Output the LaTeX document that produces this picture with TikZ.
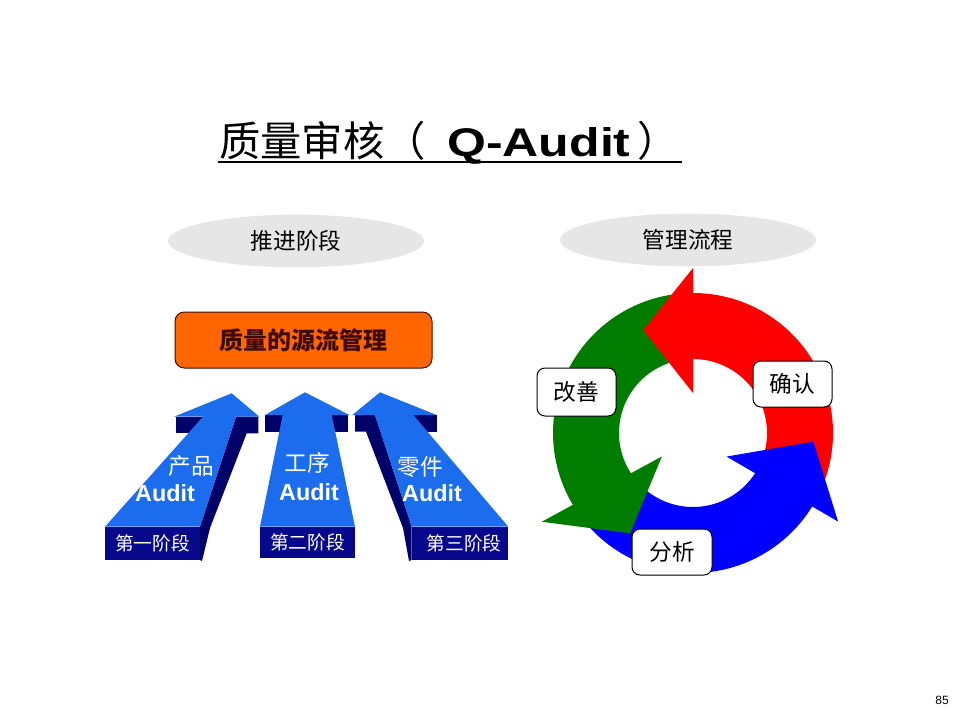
\documentclass[tikz,border=0pt]{standalone}
\usepackage{fontspec}
\usepackage{graphicx}
\setmainfont{Liberation Sans}
\newfontfamily\cjk{Noto Sans CJK SC}
\usetikzlibrary{shapes.geometric}
\definecolor{arrowblue}{RGB}{28,108,238}
\definecolor{arrowdark}{RGB}{0,0,105}
\definecolor{labelnavy}{RGB}{8,8,140}
\definecolor{pillgray}{RGB}{230,230,230}
\definecolor{boxorange}{RGB}{255,102,0}
\definecolor{boxtext}{RGB}{60,10,0}
\definecolor{ringred}{RGB}{255,0,0}
\definecolor{ringgreen}{RGB}{0,125,0}
\definecolor{ringblue}{RGB}{0,0,255}
\newcommand\cjkfs[1]{\cjk\fontsize{#1}{#1}\selectfont}
\begin{document}
\begin{tikzpicture}[x=0.75pt,y=-0.75pt,
  face/.style={fill=arrowblue},
  side/.style={fill=arrowdark},
  stagebox/.style={fill=labelnavy, text=white, inner sep=0pt, minimum width=71.25pt, minimum height=25pt, font=\cjkfs{14pt}},
  arrowcn/.style={text=white, inner sep=0pt, font=\cjkfs{17pt}},
  arrowen/.style={text=white, inner sep=0pt, font=\bfseries\fontsize{17.5pt}{17.5pt}\selectfont},
  pill/.style={ellipse, fill=pillgray, inner sep=0pt, minimum width=192pt, minimum height=39.5pt, font=\cjkfs{17pt}},
  tag/.style={draw=black, line width=0.75pt, fill=white, rounded corners=6pt, inner sep=0pt, minimum width=59.25pt, minimum height=35pt, font=\cjkfs{17pt}},
  srcbox/.style={draw=boxtext, line width=0.75pt, fill=boxorange, rounded corners=7pt, inner sep=0pt, minimum width=192.75pt, minimum height=42pt, text=boxtext, font=\cjkfs{18pt}\bfseries}
]
\useasboundingbox (0,0) rectangle (960,720);

% title
\node[anchor=base west, inner sep=0pt, font=\cjkfs{31pt}] (titlecn) at (219,157) {质量审核（};
\node[anchor=base west, inner sep=0pt, font=\bfseries\fontsize{30pt}{30pt}\selectfont] (titleq) at (447,157) {\scalebox{1.25}[1]{Q-Audit}};
\node[anchor=base west, inner sep=0pt, font=\cjkfs{31pt}] (titleclose) at (637,157) {）};
\coordinate (ulstart) at (218,162);
\coordinate (ulend) at (682,162);
\draw[line width=1.2pt] (ulstart) -- (ulend);

% headers
\node[pill] (stagehead) at (296,241) {推进阶段};
\node[pill] (flowhead) at (688,240) {管理流程};

% source box
\node[srcbox] (source) at (303.5,340) {质量的源流管理};

% arrow 1
\fill[side] (176,416.7) rectangle (203,433.3);
\fill[side] (200,560) -- (200,526.7) -- (236,416.7) -- (258.3,416.7) -- (258.3,433.3) -- (246.7,433.3) -- (210,528) -- (202,561) -- cycle;
\fill[face] (105,526.7) -- (200,526.7) -- (236,416.7) -- (259.3,416.7) -- (231.7,393.3) -- (174,416.7) -- (203,416.7) -- cycle;
\node[stagebox] (stage1) at (152.5,543.3) {第一阶段};
\node[arrowcn] (a1cn) at (191,466) {产品};
\node[arrowen] (a1en) at (165,493) {Audit};

% arrow 2
\fill[side] (265,415) rectangle (282.7,431.7);
\fill[side] (331.7,415) rectangle (348.3,431.7);
\fill[face] (260,526.7) -- (355,526.7) -- (331.7,415) -- (349.3,415) -- (305,392.3) -- (265,415) -- (282.7,415) -- cycle;
\node[stagebox, minimum height=23.7pt] (stage2) at (307.5,542.5) {第二阶段};
\node[arrowcn] (a2cn) at (307,463) {工序};
\node[arrowen] (a2en) at (309,492) {Audit};

% arrow 3
\fill[side] (413.3,415) rectangle (436.7,431.7);
\fill[side] (411.7,560) -- (411.7,526.7) -- (375,415) -- (355,415) -- (355,431.7) -- (366,431.7) -- (403,528) -- (409,561) -- cycle;
\fill[face] (411.7,526.7) -- (508.3,526.7) -- (413.3,415) -- (436.7,415) -- (380,392.3) -- (352.3,415) -- (375,415) -- cycle;
\node[stagebox, minimum width=72.5pt] (stage3) at (460,543.3) {\hspace*{6pt}第三阶段};
\node[arrowcn] (a3cn) at (420,467) {零件};
\node[arrowen] (a3en) at (432,493) {Audit};

% cycle ring
\begin{scope}[shift={(693,433)}, yscale=-1]
  \fill[ringred] plot[domain=-28:95, samples=60] (\x:140) -- plot[domain=95:-28, samples=60] (\x:74) -- cycle;
  \fill[ringgreen] plot[domain=92:220, samples=60] (\x:140) -- plot[domain=220:92, samples=60] (\x:74) -- cycle;
  \fill[ringblue] plot[domain=222:332, samples=60] (\x:140) -- plot[domain=332:222, samples=60] (\x:74) -- cycle;
  \fill[ringred] (90:40) -- (90:165) -- (115.8:114.4) -- cycle;
  \fill[ringgreen] (217:39) -- (210.4:175.4) -- (237.9:118.4) -- cycle;
  \fill[ringblue] (-35.1:41) -- (-31.4:170) -- (-4.1:120.6) -- cycle;
\end{scope}

\node[tag, minimum height=36pt] (improve) at (576.5,392) {改善};
\node[tag, minimum height=34.5pt] (confirm) at (792.5,384) {确认};
\node[tag, minimum width=60pt, minimum height=34.5pt] (analyze) at (672,552) {分析};

\node[inner sep=0pt, font=\fontsize{9pt}{9pt}\selectfont] (pagenum) at (942,700) {85};
\end{tikzpicture}
\end{document}
